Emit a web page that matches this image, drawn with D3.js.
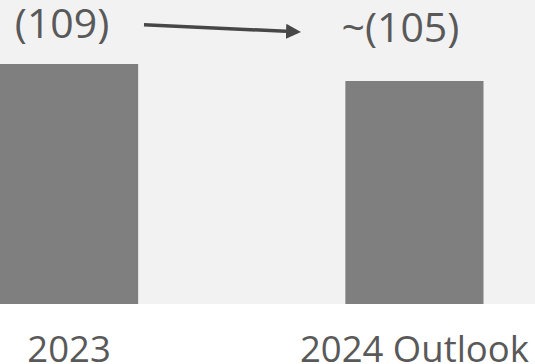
<!DOCTYPE html>
<html>
<head>
<meta charset="utf-8">
<script src="https://cdn.jsdelivr.net/npm/d3@7"></script>
<style>
  html, body { margin: 0; padding: 0; background: #ffffff; }
  svg { display: block; }
</style>
</head>
<body>
<div id="chart"></div>
<script>
// ---- data ----
const categories = ["2023", "2024 Outlook"];
const values = [109, 105];
const valueLabels = ["(109)", "~(105)"];

// ---- layout ----
const W = 535, H = 364;
const plotBottom = 304;

const svg = d3.select("#chart").append("svg")
  .attr("width", W).attr("height", H);

svg.append("rect")
  .attr("x", 0).attr("y", 0)
  .attr("width", W).attr("height", plotBottom)
  .attr("fill", "#f2f2f2");

const x = d3.scaleBand()
  .domain(categories)
  .range([0, 483.5])
  .paddingInner(0.6)
  .paddingOuter(0);

const y = d3.scaleLinear()
  .domain([52.5, 109])
  .range([plotBottom, 64]);

const data = categories.map((c, i) => ({ c, v: values[i], label: valueLabels[i] }));

svg.selectAll("rect.bar")
  .data(data)
  .join("rect")
  .attr("class", "bar")
  .attr("x", d => x(d.c))
  .attr("y", d => y(d.v))
  .attr("width", x.bandwidth())
  .attr("height", d => plotBottom - y(d.v))
  .attr("fill", "#7f7f7f");

// category axis labels
const xAxis = d3.axisBottom(x).tickSize(0).tickPadding(0);
const gx = svg.append("g")
  .attr("transform", `translate(0,${plotBottom})`)
  .call(xAxis);
gx.select(".domain").remove();
gx.selectAll("text")
  .attr("y", 58)
  .attr("dy", 0)
  .attr("font-family", "'Open Sans', sans-serif")
  .attr("font-size", 36.5)
  .attr("fill", "#595959");

// value labels
const labelDx = [-7, -14];
const labelY = [38, 42];
svg.selectAll("text.val")
  .data(data)
  .join("text")
  .attr("class", "val")
  .attr("x", (d, i) => x(d.c) + x.bandwidth() / 2 + labelDx[i])
  .attr("y", (d, i) => labelY[i])
  .attr("text-anchor", "middle")
  .attr("font-family", "'Open Sans', sans-serif")
  .attr("font-size", 41)
  .attr("fill", "#595959")
  .text(d => d.label);

// arrow
const defs = svg.append("defs");
defs.append("marker")
  .attr("id", "arrowhead")
  .attr("viewBox", "0 0 10 10")
  .attr("refX", 0).attr("refY", 5)
  .attr("markerUnits", "userSpaceOnUse")
  .attr("markerWidth", 15).attr("markerHeight", 15.5)
  .attr("orient", "auto")
  .append("path")
  .attr("d", "M0,0 L10,5 L0,10 Z")
  .attr("fill", "#474747");

svg.append("line")
  .attr("x1", 144).attr("y1", 24.7)
  .attr("x2", 286).attr("y2", 31.3)
  .attr("stroke", "#474747")
  .attr("stroke-width", 3.5)
  .attr("marker-end", "url(#arrowhead)");
</script>
</body>
</html>
